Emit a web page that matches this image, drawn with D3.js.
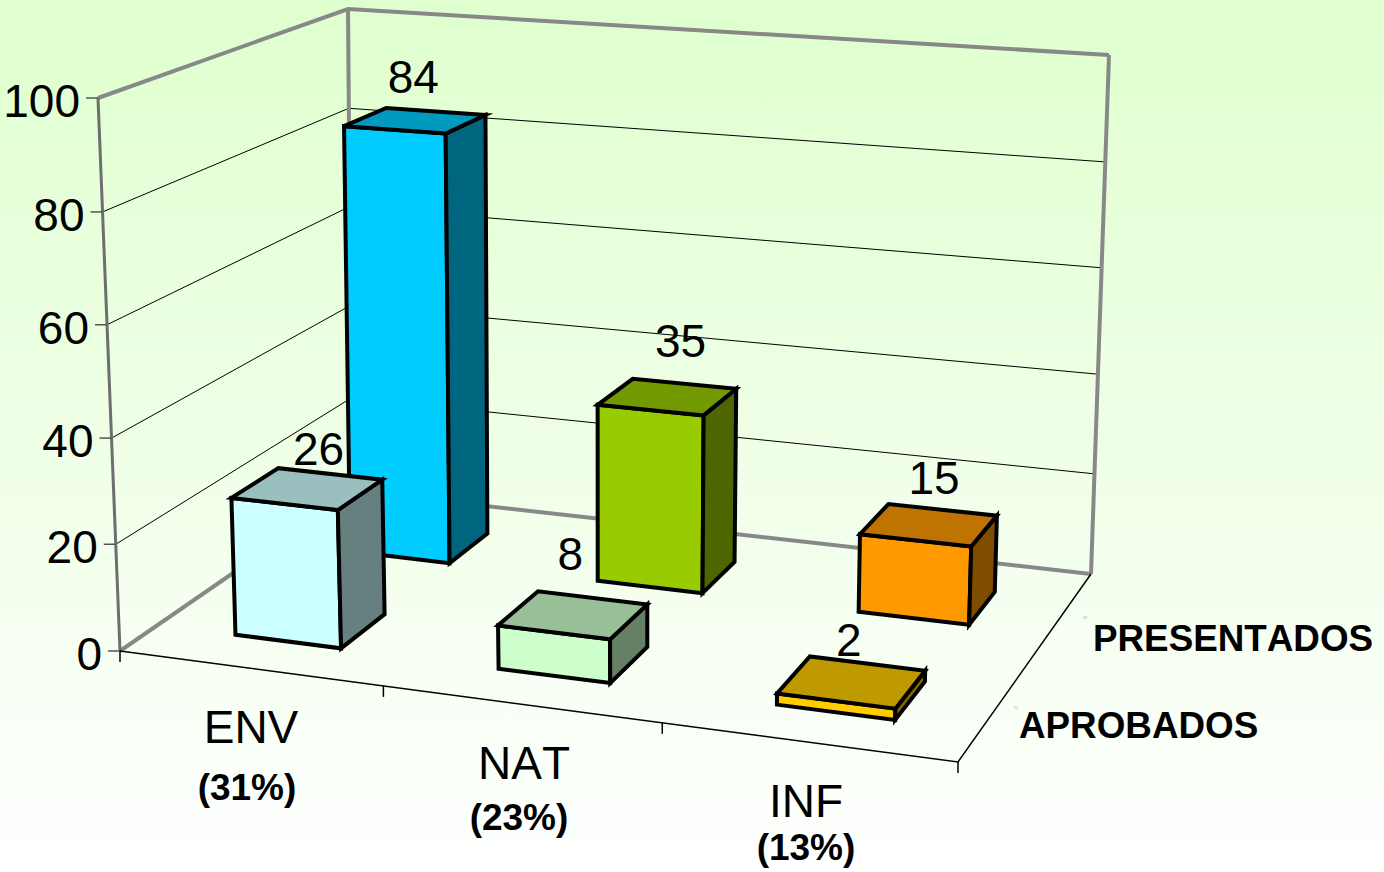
<!DOCTYPE html>
<html>
<head>
<meta charset="utf-8">
<style>
html, body { margin: 0; padding: 0; background: #fff; }
svg { display: block; }
text { font-family: "Liberation Sans", Arial, sans-serif; fill: #000; font-kerning: none; }
</style>
<script src="https://cdn.jsdelivr.net/npm/d3@7"></script>
</head>
<body>
<div id="chart"></div>
<script>
// values
var categories = ['ENV', 'NAT', 'INF'];
var percents = ['(31%)', '(23%)', '(13%)'];
var seriesNames = ['APROBADOS', 'PRESENTADOS'];
var seriesTags = ['C1', 'C2'];
var aprobados = [26, 8, 2];
var presentados = [84, 35, 15];
var yTicks = [0, 20, 40, 60, 80, 100];

var aprobadosColors = ['#CCFFFF', '#CCFFCC', '#FFCC00'];
var presentadosColors = ['#00CCFF', '#99CC00', '#FF9900'];

var width = 1384, height = 872;

// corners of the chart box on screen: front-left, front-right, back-right, back-left
var floorCorners = [[120, 651], [958, 762], [1091, 574], [352, 491]];
var topCorners = [[98, 98], [973, 162], [1109, 55], [348, 9]];

var svg = d3.select('#chart').append('svg')
    .attr('width', width)
    .attr('height', height);

var grad = svg.append('defs').append('linearGradient')
    .attr('id', 'bg')
    .attr('x1', 0).attr('y1', 0).attr('x2', 0).attr('y2', 1);
grad.append('stop').attr('offset', '0%').attr('stop-color', '#DFFFCE');
grad.append('stop').attr('offset', '100%').attr('stop-color', '#FFFFFF');

svg.append('rect')
    .attr('width', width)
    .attr('height', height)
    .attr('fill', 'url(#bg)');

// maps the unit square onto a screen quad, keeps the perspective right
function quadMap(q) {
    var x0 = q[0][0], y0 = q[0][1], x1 = q[1][0], y1 = q[1][1];
    var x2 = q[2][0], y2 = q[2][1], x3 = q[3][0], y3 = q[3][1];
    var dx1 = x1 - x2, dx2 = x3 - x2, sx = x0 - x1 + x2 - x3;
    var dy1 = y1 - y2, dy2 = y3 - y2, sy = y0 - y1 + y2 - y3;
    var det = dx1 * dy2 - dx2 * dy1;
    var g = (sx * dy2 - dx2 * sy) / det;
    var h = (dx1 * sy - sx * dy1) / det;
    var a = x1 - x0 + g * x1, b = x3 - x0 + h * x3;
    var d = y1 - y0 + g * y1, e = y3 - y0 + h * y3;
    return function (u, v) {
        var w = g * u + h * v + 1;
        return [(a * u + b * v + x0) / w, (d * u + e * v + y0) / w];
    };
}

var floorMap = quadMap(floorCorners);
var topMap = quadMap(topCorners);

// value -> share of the wall height (the ticks are not quite evenly spaced in the picture)
var hScale = d3.scaleLinear()
    .domain(yTicks)
    .range([0, 0.193, 0.385, 0.59, 0.794, 1]);

var uScale = d3.scaleBand()
    .domain(categories)
    .range([0.003, 1.003])
    .paddingInner(0.592)
    .paddingOuter(0.296);

var dScale = d3.scaleBand()
    .domain(seriesNames)
    .range([-0.008, 0.992])
    .paddingInner(0.616)
    .paddingOuter(0.308);

// u across, d into the page, v is a chart value
function project(u, d, v) {
    var f = floorMap(u, d), t = topMap(u, d), s = hScale(v);
    return [f[0] + (t[0] - f[0]) * s, f[1] + (t[1] - f[1]) * s];
}

var line = d3.line();

function drawLine(pts, stroke, sw) {
    svg.append('path')
        .attr('d', line(pts))
        .attr('fill', 'none')
        .attr('stroke', stroke)
        .attr('stroke-width', sw);
}

// gridlines on the two walls
yTicks.slice(1, -1).forEach(function (v) {
    drawLine([project(0, 0, v), project(0, 1, v), project(1, 1, v)], '#000', 1);
});

// frame
var frameGrey = '#888888';
drawLine([project(0, 0, 100), project(0, 1, 100), project(1, 1, 100)], frameGrey, 4);
drawLine([project(0, 1, 100), project(0, 1, 0)], frameGrey, 4);
drawLine([project(1, 1, 100), project(1, 1, 0)], frameGrey, 4);
drawLine([project(0, 0, 0), project(0, 1, 0), project(1, 1, 0)], frameGrey, 4);
drawLine([project(0, 0, 100), project(0, 0, 0)], '#6e6e6e', 3);
drawLine([project(0, 0, 0), project(1, 0, 0), project(1, 1, 0)], '#000', 1.5);

// y ticks and labels
var tickLen = 12;
yTicks.forEach(function (v) {
    var p = project(0, 0, v);
    drawLine([[p[0] - tickLen, p[1]], p], '#555', 1.5);
    svg.append('text')
        .attr('x', p[0] - 18)
        .attr('y', p[1] + 19)
        .attr('text-anchor', 'end')
        .attr('font-size', 46)
        .text(v);
});

// category ticks under the front edge
d3.range(0, categories.length + 1).forEach(function (i) {
    var p = project(i / categories.length, 0, 0);
    drawLine([p, [p[0], p[1] + 11]], '#000', 1.5);
});

function bar(series, cat, value, color) {
    var u0 = uScale(cat), u1 = u0 + uScale.bandwidth();
    var d0 = dScale(series), d1 = d0 + dScale.bandwidth();
    var base = d3.rgb(color);
    var shade = function (k) {
        return d3.rgb(base.r * k, base.g * k, base.b * k).formatHex();
    };
    var faces = [
        { fill: shade(1), pts: [project(u0, d0, 0), project(u1, d0, 0), project(u1, d0, value), project(u0, d0, value)] },
        { fill: shade(0.5), pts: [project(u1, d0, 0), project(u1, d1, 0), project(u1, d1, value), project(u1, d0, value)] },
        { fill: shade(0.75), pts: [project(u0, d0, value), project(u1, d0, value), project(u1, d1, value), project(u0, d1, value)] }
    ];
    svg.append('g').selectAll('path')
        .data(faces)
        .join('path')
        .attr('d', function (f) { return line(f.pts) + 'Z'; })
        .attr('fill', function (f) { return f.fill; })
        .attr('stroke', '#000')
        .attr('stroke-width', 4)
        .attr('stroke-linejoin', 'miter');
}

// back row first, then the front row over it
categories.forEach(function (c, i) {
    bar('PRESENTADOS', c, presentados[i], presentadosColors[i]);
});
categories.forEach(function (c, i) {
    bar('APROBADOS', c, aprobados[i], aprobadosColors[i]);
});

// data labels, hand placed above each bar like in the original
var labelNudgeBack = [[-2, -28], [13, -40], [5, -31]];
var labelNudgeFront = [[11, -24], [-3, -45], [-3, -26]];

function dataLabel(series, cat, value, nudge) {
    var uc = uScale(cat) + uScale.bandwidth() / 2;
    var dc = dScale(series) + dScale.bandwidth() / 2;
    var p = project(uc, dc, value);
    svg.append('text')
        .attr('x', p[0] + nudge[0])
        .attr('y', p[1] + nudge[1])
        .attr('text-anchor', 'middle')
        .attr('font-size', 46)
        .text(value);
}

categories.forEach(function (c, i) {
    dataLabel('PRESENTADOS', c, presentados[i], labelNudgeBack[i]);
    dataLabel('APROBADOS', c, aprobados[i], labelNudgeFront[i]);
});

// category labels with the percentages below
var catLabelPos = [[251, 743], [524, 779], [806, 817]];
var pctLabelPos = [[247, 800], [519, 830], [806, 860]];

categories.forEach(function (c, i) {
    svg.append('text')
        .attr('x', catLabelPos[i][0])
        .attr('y', catLabelPos[i][1])
        .attr('text-anchor', 'middle')
        .attr('font-size', 46)
        .text(c);
    svg.append('text')
        .attr('x', pctLabelPos[i][0])
        .attr('y', pctLabelPos[i][1])
        .attr('text-anchor', 'middle')
        .attr('font-size', 37)
        .attr('font-weight', 'bold')
        .text(percents[i]);
});

// series names on the right, each with the tiny tag the original left behind
var seriesLabelPos = [[1019, 738], [1093, 651]];
var tagPos = [[1014, 709], [1083, 619]];

seriesNames.forEach(function (s, i) {
    svg.append('text')
        .attr('x', seriesLabelPos[i][0])
        .attr('y', seriesLabelPos[i][1])
        .attr('font-size', 36.8)
        .attr('font-weight', 'bold')
        .text(s);
    svg.append('text')
        .attr('x', tagPos[i][0])
        .attr('y', tagPos[i][1])
        .attr('font-size', 3)
        .style('fill', '#888')
        .text(seriesTags[i]);
});
</script>
</body>
</html>
